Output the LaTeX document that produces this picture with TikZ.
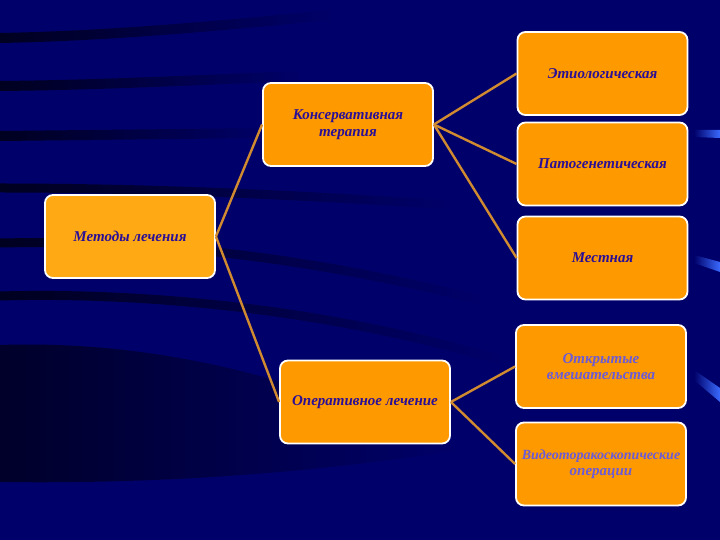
\documentclass[tikz,border=0pt]{standalone}
\usepackage{fontspec}
\setmainfont{Liberation Serif}
\usetikzlibrary{shapes,fadings}
\definecolor{slidebg}{HTML}{00006A}
\definecolor{boxfill}{HTML}{FF9900}
\definecolor{boxlight}{HTML}{FFAA14}
\definecolor{boxtext}{HTML}{2A0F96}
\definecolor{boxpale}{HTML}{6B5BD6}
\definecolor{linkcol}{HTML}{D08A30}
\definecolor{streak}{HTML}{3A6BFF}
\tikzset{
  tbox/.style={rectangle, rounded corners=8pt, draw=white, line width=1.8pt, fill=boxfill,
    minimum width=170pt, minimum height=83pt, inner sep=2pt, align=center, text=boxtext,
    font=\fontsize{15}{16.5}\selectfont\bfseries\itshape},
  band/.style={line width=#1, black, opacity=0.7, path fading=east}
}
\newcommand{\tnode}[3] {\node[tbox] at (#1) (#2) {#3};}
\newcommand{\tnodepale}[3] {\node[tbox, text=boxpale] at (#1) (#2) {#3};}
\newcommand{\tlink}[2] {\draw[linkcol, line width=2.4pt] (#1.east) -- (#2.west);}

\begin{document}
\begin{tikzpicture}[x=1pt,y=-1pt]
\useasboundingbox (0,0) rectangle (720,540);
% background
\fill[slidebg] (0,0) rectangle (720,540);
\fill[black, opacity=0.6, path fading=east] (0,345) .. controls (150,340) and (300,375) .. (460,450)
  .. controls (300,475) and (150,484) .. (0,482) -- cycle;
\draw[band=10pt] (0,38) .. controls (100,36) and (200,28) .. (330,15);
\draw[band=10pt] (0,86) .. controls (100,85) and (200,80) .. (300,76);
\draw[band=10pt] (0,136) -- (270,133);
\draw[band=9pt] (0,188) .. controls (150,188) and (300,195) .. (450,205);
\draw[band=9pt] (0,243) .. controls (150,240) and (300,255) .. (480,300);
\draw[band=9pt] (0,296) .. controls (150,292) and (330,310) .. (500,360);
\fill[streak, path fading=west] (694,130) -- (720,130) -- (720,138) -- (694,137) -- cycle;
\fill[streak, path fading=west] (694,255) -- (720,262) -- (720,272) -- (694,263) -- cycle;
\fill[streak, path fading=west] (694,370) -- (720,388) -- (720,402) -- (694,380) -- cycle;

\node[tbox, fill=boxlight] at (130,236.5) (metody) {Методы лечения};
\tnode {348,124.5} {kons} {Консервативная\\терапия};
\tnode {365,402} {oper} {Оперативное лечение};

\tnode {602.5,73.5} {etio} {Этиологическая};
\tnode {602.5,164} {pato} {Патогенетическая};
\tnode {602.5,258} {mest} {Местная};
\tnodepale {601,366.5} {otkr} {Открытые\\вмешательства};
\tnodepale {601,464} {video} {\fontsize{14}{16.5}\selectfont Видеоторакоскопические\\операции};

\tlink{metody}{kons};
\tlink{metody}{oper};
\tlink{kons}{etio};
\tlink{kons}{pato};
\tlink{kons}{mest};
\tlink{oper}{otkr};
\tlink{oper}{video};
\end{tikzpicture}
\end{document}
